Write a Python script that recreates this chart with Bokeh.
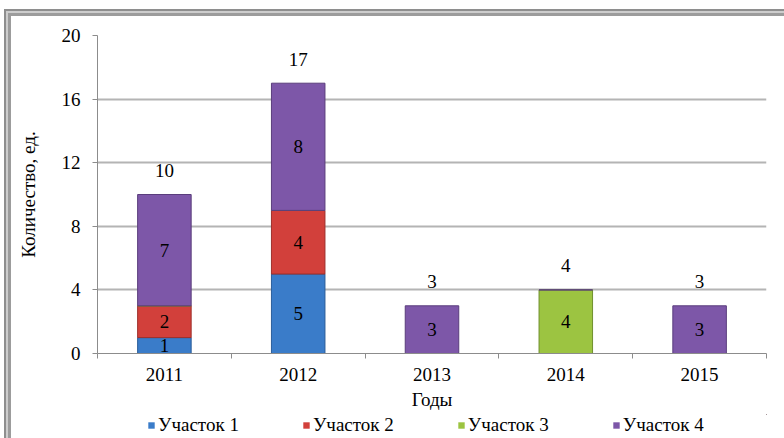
from bokeh.plotting import figure
from bokeh.layouts import column
from bokeh.models import Range1d, FixedTicker, Legend, LegendItem, ColumnDataSource
from bokeh.embed import file_html
from bokeh.resources import INLINE
from bokeh.core.properties import value

years = ["2011", "2012", "2013", "2014", "2015"]
series_names = ["Участок 1", "Участок 2", "Участок 3", "Участок 4"]
u1 = [1, 5, 0, 0, 0]
u2 = [2, 4, 0, 0, 0]
u3 = [0, 0, 0, 4, 0]
u4 = [7, 8, 3, 0, 3]
y_ticks = [0, 4, 8, 12, 16, 20]

colors = ["#3a7cc9", "#d2403b", "#9cc441", "#7d57a8"]
edges = ["#2a5d99", "#9e2f2b", "#6f8f2d", "#5a3d7c"]
SERIF = "'Liberation Serif'"
FS = "19px"
W, H_MAIN, H_LEG = 784, 414, 24

xs = list(range(1, len(years) + 1))
series = [u1, u2, u3, u4]

p = figure(width=W, height=H_MAIN, output_backend="svg", toolbar_location=None,
           x_range=Range1d(0.5, len(years) + 0.5), y_range=Range1d(0, 20),
           min_border_left=97, min_border_right=18, min_border_top=35, min_border_bottom=61)
p.outline_line_color = None
p.background_fill_color = "white"
p.border_fill_alpha = 0

# axes
p.xaxis.ticker = FixedTicker(ticks=xs, minor_ticks=[x - 0.5 for x in xs] + [xs[-1] + 0.5])
p.xaxis.major_label_overrides = {x: y for x, y in zip(xs, years)}
p.xaxis.major_tick_out = 0
p.xaxis.major_tick_in = 0
p.xaxis.minor_tick_out = 5
p.xaxis.minor_tick_in = 0
p.xaxis.minor_tick_line_color = "#8c8c8c"
p.xaxis.axis_line_color = "#8c8c8c"
p.xaxis.major_label_text_font = SERIF
p.xaxis.major_label_text_font_size = FS
p.xaxis.major_label_text_color = "black"
p.xaxis.major_label_standoff = 9
p.xaxis.axis_label = "Годы"
p.xaxis.axis_label_text_font = SERIF
p.xaxis.axis_label_text_font_size = FS
p.xaxis.axis_label_text_font_style = "normal"
p.xaxis.axis_label_text_color = "black"
p.xaxis.axis_label_standoff = 5

p.yaxis.ticker = FixedTicker(ticks=y_ticks, minor_ticks=[])
p.yaxis.major_tick_out = 5
p.yaxis.major_tick_in = 0
p.yaxis.major_tick_line_color = "#8c8c8c"
p.yaxis.axis_line_color = "#8c8c8c"
p.yaxis.major_label_text_font = SERIF
p.yaxis.major_label_text_font_size = FS
p.yaxis.major_label_text_color = "black"
p.yaxis.major_label_standoff = 12
p.yaxis.axis_label = "Количество, ед."
p.yaxis.axis_label_text_font = SERIF
p.yaxis.axis_label_text_font_size = FS
p.yaxis.axis_label_text_font_style = "normal"
p.yaxis.axis_label_text_color = "black"
p.yaxis.axis_label_standoff = 20

p.xgrid.grid_line_color = None
p.ygrid.grid_line_color = "#b4b4b4"
p.ygrid.grid_line_width = 2

# bars
data = {"x": xs}
for name, s in zip(series_names, series):
    data[name] = s
src = ColumnDataSource(data)
renderers = p.vbar_stack(series_names, x="x", width=0.4, source=src,
                         color=colors, line_color=edges, line_width=1)

# segment labels
lx, ly, lt = [], [], []
bottom = [0] * len(xs)
for s in series:
    for i, v in enumerate(s):
        if v:
            lx.append(xs[i]); ly.append(bottom[i] + v / 2); lt.append(str(v))
        bottom[i] += v
p.text(x=lx, y=ly, text=lt, text_align="center", text_baseline="middle",
       text_font=value(SERIF), text_font_size=FS, text_color="black")

# totals above the stacks
totals = bottom
p.text(x=xs, y=totals, text=[str(t) for t in totals], text_align="center",
       text_baseline="middle", y_offset=-24,
       text_font=value(SERIF), text_font_size=FS, text_color="black")

# legend strip (own figure so it is not clipped by the main frame);
# it holds the same stacked series, outside its visible ranges, only for the legend swatches
pl = figure(width=W, height=H_LEG, output_backend="svg", toolbar_location=None,
            x_axis_location=None, y_axis_location=None,
            x_range=Range1d(-20, -19), y_range=Range1d(-20, -19),
            min_border_left=0, min_border_right=0, min_border_top=0, min_border_bottom=0)
pl.outline_line_color = None
pl.background_fill_alpha = 0
pl.border_fill_alpha = 0
pl.xgrid.visible = False
pl.ygrid.visible = False
leg_renderers = pl.vbar_stack(series_names, x="x", width=0.4, source=src,
                              color=colors, line_color=None)

legend = Legend(items=[LegendItem(label=n, renderers=[r]) for n, r in zip(series_names, leg_renderers)],
                orientation="horizontal", location=(50, 2))
legend.label_text_font = SERIF
legend.label_text_font_size = FS
legend.label_text_color = "black"
legend.glyph_width = 8
legend.glyph_height = 8
legend.label_standoff = 3
legend.label_height = 20
legend.spacing = 63
legend.padding = 0
legend.margin = 0
legend.border_line_color = None
legend.background_fill_alpha = 0
pl.add_layout(legend, "center")

layout = column(p, pl, spacing=0)
layout.styles = {"background-color": "white",
                 "box-shadow": "inset 4px 9px 0 0 white, inset 6px 11px 0 0 #8e8e8e, "
                               "inset 8px 13px 0 0 #cdcdcd, inset 11px 16px 0 0 #9c9c9c"}

open("out.html", "w").write(file_html(layout, INLINE))
